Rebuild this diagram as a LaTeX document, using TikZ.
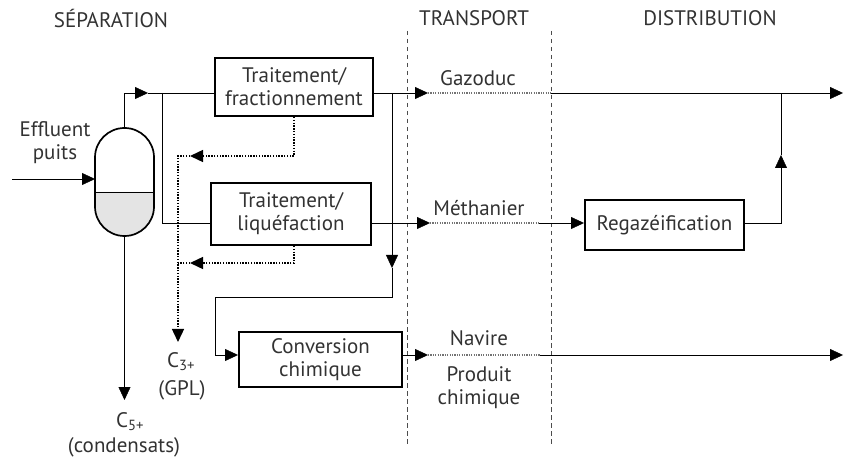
\documentclass[tikz,border=0pt]{standalone}
\usepackage{fontspec}
\setmainfont{PT Sans}
\usetikzlibrary{arrows.meta}
\usetikzlibrary{positioning,calc}
\definecolor{textgray}{RGB}{50,50,50}
\definecolor{liquidgray}{RGB}{228,228,228}
\tikzset{
	every node/.style={font=\fontsize{21}{23}\selectfont,text=textgray}
}
\tikzset{
	>={Triangle[length=13pt,width=12pt]},line width=1.5pt,
	main node/.style={rectangle,draw,line width=2pt,align=center,inner sep=0pt},
	recycle/.style={dash pattern=on 1.4pt off 1.4pt,line width=1.4pt},
	route/.style={dash pattern=on 1.2pt off 1.2pt,line width=1.1pt,draw=black!55},
	border/.style={dash pattern=on 4.5pt off 3.5pt,line width=1pt,draw=black!70},
	head/.style={font=\fontsize{21}{23}\selectfont}
}

\begin{document}
\begin{tikzpicture}[x=1pt,y=-1pt]
\useasboundingbox (0,0) rectangle (844,457);
% headers
\node[head] (sep) at (111,18) {SÉPARATION};
\node[head] (tra) at (474,18) {TRANSPORT};
\node[head] (dis) at (710,18) {DISTRIBUTION};
\draw[border] (407,31) -- (407,445);
\draw[border] (551,31) -- (551,445);

% separator
\fill[liquidgray] (95,192) -- (154,192) -- (154,206.5) arc[start angle=0,end angle=180,radius=29.5] -- cycle;
\draw[line width=1.7pt] (95,157.5) arc[start angle=180,end angle=360,radius=29.5] -- (154,206.5)
	arc[start angle=0,end angle=180,radius=29.5] -- cycle;
\draw (95,192) -- (154,192);
\coordinate (top) at (124.5,128);
\coordinate (bot) at (124.5,236);
\coordinate (inlet) at (95,179);
\coordinate (feed) at (12,179);
\node[align=center] (eff) at (55,143) {Effluent\\puits};

% units
\node[main node,minimum width=158pt,minimum height=58pt] (frac) at (294,87) {Traitement/\\fractionnement};
\node[main node,minimum width=160pt,minimum height=62pt] (liq) at (291,214) {Traitement/\\liquéfaction};
\node[main node,minimum width=163pt,minimum height=55pt] (conv) at (320.5,359.5) {Conversion\\chimique};
\node[main node,minimum width=159pt,minimum height=50pt] (regaz) at (664.5,225) {Regazéification};

\coordinate (lvl1) at (0,93);
\coordinate (lvl2) at (0,223);
\coordinate (lvl3) at (0,355);
\coordinate (split) at (162,93);
\coordinate (tee) at (392,93);
\coordinate (gaz) at (428,93);
\coordinate (lng) at (430,223);
\coordinate (ship) at (428,355);

% main flows
\draw[->] (feed) -- (inlet);
\draw[->] (top) |- (148,93);
\draw (148,93) -- (frac.west |- lvl1);
\draw (split) |- (liq.west |- lvl2);
\draw[->] (frac.east |- lvl1) -- (gaz);
\draw[->] (liq.east |- lvl2) -- (lng);
\draw[->] (tee) -- (392,268);
\draw[->] (392,268) -- (392,297) -| (215,355) -- (conv.west |- lvl3);
\draw[->] (conv.east |- lvl3) -- (ship);
\draw[->] (bot) -- (124.5,400);

% transport
\draw[route] (gaz) -- (551,93);
\draw[->] (551,93) -- (843,93);
\draw[route] (lng) -- (539,223);
\draw[->] (539,223) -- (regaz.west |- lvl2);
\draw[route] (ship) -- (540,355);
\draw[->] (540,355) -- (843,355);
\draw[->] (regaz.east |- lvl2) -| (781,155);
\draw (781,155) -- (781,93);
\node (gazlbl) at (478,78) {Gazoduc};
\node (lnglbl) at (479,208) {Méthanier};
\node (shiplbl) at (479,338) {Navire};
\node[align=center] (prodlbl) at (479,388) {Produit\\chimique};

% recycle
\draw[recycle,->] (frac.south) |- (190,156);
\draw[recycle,->] (190,156) -- (178,156) -- (178,342);
\draw[recycle,->] (liq.south -| frac.south) |- (190,263);
\draw[recycle] (190,263) -- (178,263);
\node (c3) at (181,362) {C\textsubscript{3+}};
\node (gpl) at (182,390) {(GPL)};
\node (c5) at (130,422) {C\textsubscript{5+}};
\node (cond) at (124,447) {(condensats)};
\end{tikzpicture}
\end{document}
